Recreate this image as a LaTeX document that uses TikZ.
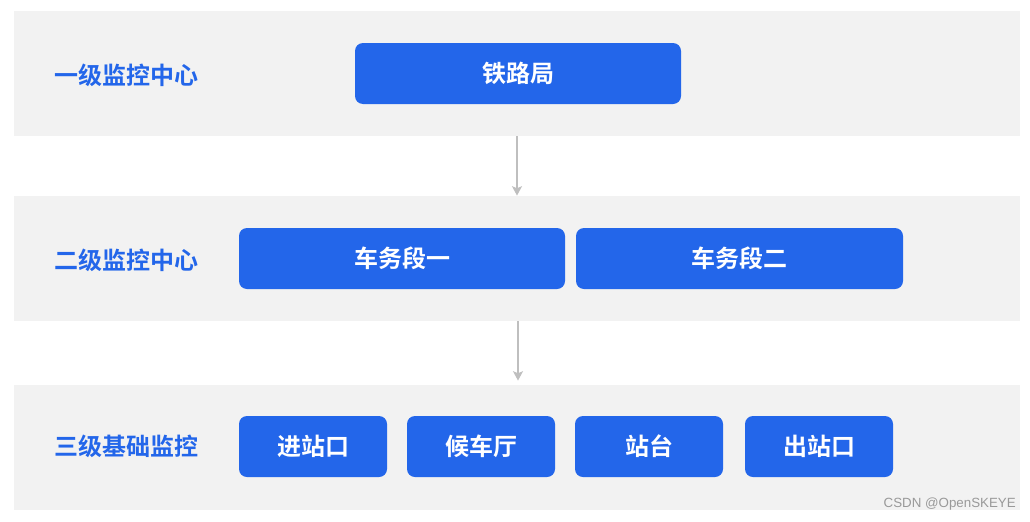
\documentclass[tikz,border=0pt]{standalone}
\usepackage{fontspec}
\setmainfont{Liberation Sans}
\newfontfamily\cjk{Noto Sans CJK SC}[BoldFont={* Bold}]
\usetikzlibrary{arrows.meta,positioning}
\definecolor{bandgray}{HTML}{F2F2F2}
\definecolor{boxblue}{HTML}{2366EA}
\definecolor{arrowgray}{HTML}{BFBFBF}

\begin{document}
\begin{tikzpicture}[
    x=0.75pt,
    y=-0.75pt,
    >={Stealth[length=7pt,width=7.5pt,inset=1.5pt]},
    band/.style={
        fill=bandgray,
        draw=none,
        minimum width=754.5pt,
        minimum height=94pt,
        inner sep=0pt
    },
    unit/.style={
        fill=boxblue,
        draw=none,
        rounded corners=6pt,
        minimum height=45.75pt,
        inner sep=0pt,
        text=white,
        font=\cjk\bfseries\fontsize{18pt}{20pt}\selectfont
    },
    level/.style={
        text=boxblue,
        inner sep=0pt,
        anchor=west,
        font=\cjk\bfseries\fontsize{18pt}{20pt}\selectfont
    },
    edge/.style={
        ->,
        arrowgray,
        line width=0.9pt
    }
]
\useasboundingbox (0,0) rectangle (1030,521);

% Bands
\node[band] (band1) at (517,73.5) {};
\node[band] (band2) at (517,258.5) {};
\node[band] (band3) at (517,447.5) {};

% Level labels
\node[level] (l1) at (54,75) {一级监控中心};
\node[level] (l2) at (54,260) {二级监控中心};
\node[level] (l3) at (54,446) {三级基础监控};

% Layer 1
\node[unit, minimum width=244.5pt] (bureau) at (518,73.5) {\raisebox{-1.5pt}{铁路局}};

% Layer 2
\node[unit, minimum width=244.5pt] (sec1) at (402,258.5) {\raisebox{-1.5pt}{车务段一}};
\node[unit, minimum width=245.25pt] (sec2) at (739.5,258.5) {\raisebox{-1.5pt}{车务段二}};

% Layer 3
\node[unit, minimum width=111pt] (entry) at (313,446.5) {\raisebox{-1pt}{进站口}};
\node[unit, minimum width=111pt] (hall) at (481,446.5) {\raisebox{-1pt}{候车厅}};
\node[unit, minimum width=111pt] (platform) at (649,446.5) {\raisebox{-1pt}{站台}};
\node[unit, minimum width=111pt] (exit) at (819,446.5) {\raisebox{-1pt}{出站口}};

% Edges
\draw[edge] (band1.south) -- (band2.north);
\draw[edge] ([xshift=0.75pt]band2.south) -- ([xshift=0.75pt,yshift=3pt]band3.north);

% Watermark
\node[text=gray!80, font=\fontsize{10pt}{11pt}\selectfont, anchor=east, inner sep=0pt] (mark) at (1016,504) {CSDN @OpenSKEYE};
\end{tikzpicture}
\end{document}
